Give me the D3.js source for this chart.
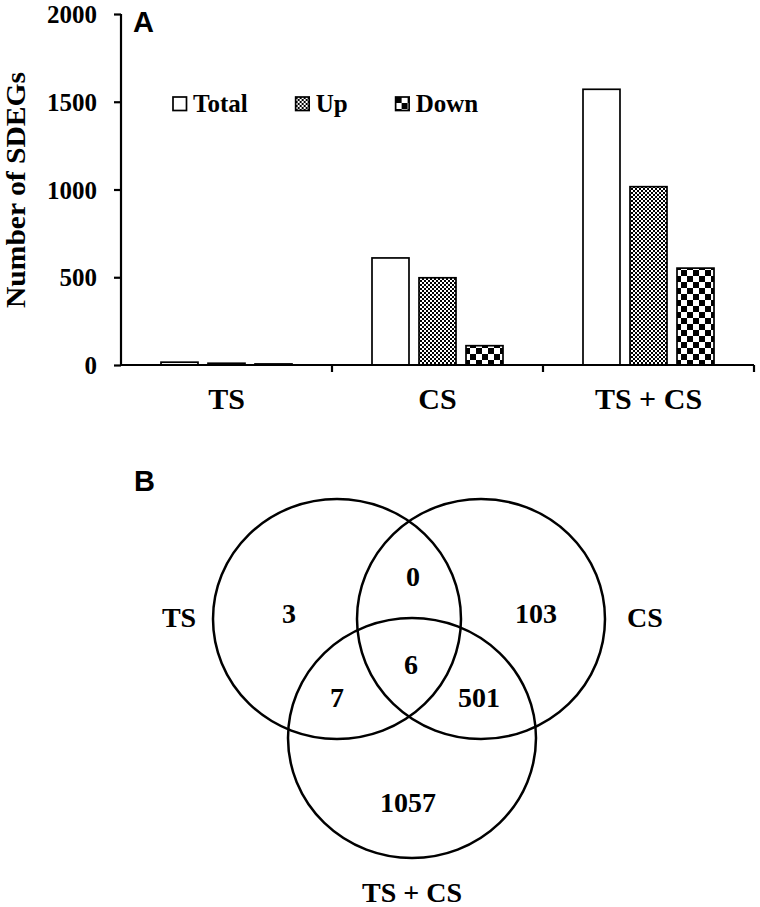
<!DOCTYPE html>
<html>
<head>
<meta charset="utf-8">
<script src="https://cdn.jsdelivr.net/npm/d3@7"></script>
<style>
  body { margin: 0; background: #fff; }
  text { font-family: "Liberation Serif", "Times New Roman", serif; font-weight: bold; fill: #000; }
  .panel { font-family: "Liberation Sans", Arial, sans-serif; }
</style>
</head>
<body>
<svg id="fig" width="760" height="907"></svg>
<script>
// ---- data (panel A) ----
const categories = ['TS', 'CS', 'TS + CS'];
const seriesNames = ['Total', 'Up', 'Down'];
const totalValues = [16, 610, 1571];
const upValues = [10, 497, 1016];
const downValues = [6, 110, 552];
const yTicks = [0, 500, 1000, 1500, 2000];

// ---- data (panel B) ----
const vennSets = ['TS', 'CS', 'TS + CS'];
const regionKeys = ['TS', 'TS&CS', 'CS', 'all', 'TS&TSCS', 'CS&TSCS', 'TSCS'];
const regionCounts = [3, 0, 103, 6, 7, 501, 1057];

const svg = d3.select('#fig');

// patterns for the hatched bars
const defs = svg.append('defs');
function checker (id, c) {
    const p = defs.append('pattern')
        .attr('id', id)
        .attr('patternUnits', 'userSpaceOnUse')
        .attr('width', c * 2)
        .attr('height', c * 2);
    p.append('rect').attr('width', c * 2).attr('height', c * 2).attr('fill', '#fff');
    p.append('rect').attr('width', c).attr('height', c).attr('fill', '#000');
    p.append('rect').attr('x', c).attr('y', c).attr('width', c).attr('height', c).attr('fill', '#000');
}
checker('upPat', 2);
checker('downPat', 6);
const fills = {Total: '#fff', Up: 'url(#upPat)', Down: 'url(#downPat)'};

// ---- panel A: grouped bars ----
const x0 = d3.scaleBand().domain(categories).range([121, 754]);
const x1 = d3.scaleBand().domain(seriesNames).range([40, 171]).paddingInner(0.213);
const y = d3.scaleLinear().domain([0, 2000]).range([365, 14]);

const rows = categories.map((c, i) => ({
    cat: c,
    values: [totalValues[i], upValues[i], downValues[i]].map((v, j) => ({key: seriesNames[j], v}))
}));

const groups = svg.append('g').selectAll('g')
    .data(rows)
    .join('g')
    .attr('transform', d => `translate(${x0(d.cat)},0)`);

groups.selectAll('rect')
    .data(d => d.values)
    .join('rect')
    .attr('x', d => x1(d.key))
    .attr('y', d => y(d.v))
    .attr('width', x1.bandwidth())
    .attr('height', d => y(0) - y(d.v))
    .attr('fill', d => fills[d.key])
    .attr('stroke', '#000')
    .attr('stroke-width', 1.7);

// y axis
const yAxis = svg.append('g')
    .attr('transform', 'translate(121,0)')
    .call(d3.axisLeft(y).tickValues(yTicks).tickSize(7).tickPadding(17).tickFormat(d3.format('d')));
yAxis.select('.domain').attr('stroke-width', 2.2).attr('d', 'M0,14V366');
yAxis.selectAll('.tick line').attr('stroke-width', 2.2);
yAxis.selectAll('.tick text')
    .attr('dy', '0.34em')
    .style('font-size', '25px')
    .style('font-family', '"Liberation Serif", "Times New Roman", serif')
    .style('font-weight', 'bold');

// x axis: baseline with ticks at category boundaries
const xAxis = svg.append('g');
xAxis.append('line')
    .attr('x1', 121).attr('x2', x0.range()[1])
    .attr('y1', y(0)).attr('y2', y(0))
    .attr('stroke', '#000').attr('stroke-width', 2.2);
xAxis.selectAll('.xt')
    .data(categories)
    .join('line')
    .attr('class', 'xt')
    .attr('x1', d => x0(d) + x0.bandwidth())
    .attr('x2', d => x0(d) + x0.bandwidth())
    .attr('y1', y(0)).attr('y2', y(0) + 7)
    .attr('stroke', '#000').attr('stroke-width', 2.2);
xAxis.selectAll('.xl')
    .data(categories)
    .join('text')
    .attr('class', 'xl')
    .attr('x', d => x0(d) + x0.bandwidth() / 2)
    .attr('y', 409)
    .attr('text-anchor', 'middle')
    .style('font-size', '30px')
    .text(d => d);

// y label
svg.append('text')
    .attr('transform', 'translate(25,190) rotate(-90)')
    .attr('text-anchor', 'middle')
    .attr('textLength', 236)
    .attr('lengthAdjust', 'spacingAndGlyphs')
    .style('font-size', '27px')
    .text('Number of SDEGs');

// legend
const legend = svg.append('g').attr('transform', 'translate(173,97)');
let lx = 0;
seriesNames.forEach(name => {
    const item = legend.append('g').attr('transform', `translate(${lx},0)`);
    item.append('rect')
        .attr('width', 13.5).attr('height', 13.5)
        .attr('fill', fills[name])
        .attr('stroke', '#000').attr('stroke-width', 1.7);
    const t = item.append('text')
        .attr('x', 20).attr('y', 14.5)
        .style('font-size', '25px')
        .text(name);
    lx += 20 + t.node().getComputedTextLength() + 48;
});

// panel letters
svg.append('text').attr('class', 'panel').attr('x', 133).attr('y', 32).style('font-size', '29px').text('A');
svg.append('text').attr('class', 'panel').attr('x', 134).attr('y', 491).style('font-size', '29px').text('B');

// ---- panel B: Venn diagram ----
const venn = {cx: 409, cy: 659, dx: 72, up: 40, down: 79, rx: 124, ry: 120};
const circleCentres = [
    [venn.cx - venn.dx, venn.cy - venn.up],
    [venn.cx + venn.dx, venn.cy - venn.up],
    [venn.cx + 3, venn.cy + venn.down]
];
const regionOffsets = {
    'TS': [-120, -36], 'TS&CS': [4, -73], 'CS': [127, -36], 'all': [2, 15],
    'TS&TSCS': [-72, 48], 'CS&TSCS': [70, 48], 'TSCS': [-1, 153]
};
const setLabelOffsets = [[-230, -32], [236, -32], [3, 243]];

svg.append('g').selectAll('ellipse')
    .data(vennSets)
    .join('ellipse')
    .attr('cx', (d, i) => circleCentres[i][0])
    .attr('cy', (d, i) => circleCentres[i][1])
    .attr('rx', venn.rx)
    .attr('ry', venn.ry)
    .attr('fill', 'none')
    .attr('stroke', '#000')
    .attr('stroke-width', 2.5);

svg.append('g').selectAll('text')
    .data(regionKeys)
    .join('text')
    .attr('x', d => venn.cx + regionOffsets[d][0])
    .attr('y', d => venn.cy + regionOffsets[d][1])
    .attr('text-anchor', 'middle')
    .style('font-size', '28px')
    .text((d, i) => regionCounts[i]);

svg.append('g').selectAll('text')
    .data(vennSets)
    .join('text')
    .attr('x', (d, i) => venn.cx + setLabelOffsets[i][0])
    .attr('y', (d, i) => venn.cy + setLabelOffsets[i][1])
    .attr('text-anchor', 'middle')
    .style('font-size', '28px')
    .text(d => d);
</script>
</body>
</html>
